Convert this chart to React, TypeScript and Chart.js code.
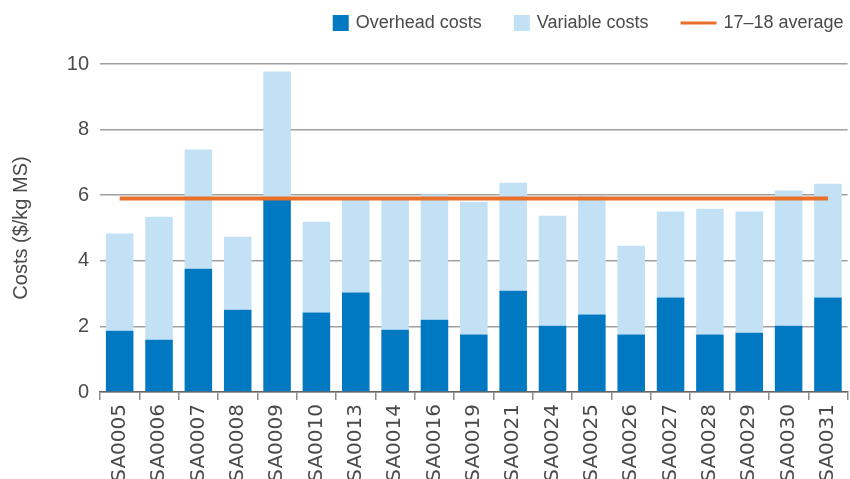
import React, { useEffect, useRef } from 'react';
import { Chart, registerables } from 'chart.js';

Chart.register(...registerables);

const categories = ['SA0005', 'SA0006', 'SA0007', 'SA0008', 'SA0009', 'SA0010', 'SA0013', 'SA0014', 'SA0016', 'SA0019', 'SA0021', 'SA0024', 'SA0025', 'SA0026', 'SA0027', 'SA0028', 'SA0029', 'SA0030', 'SA0031'];
const overheadCosts = [1.87, 1.59, 3.76, 2.51, 5.85, 2.42, 3.03, 1.9, 2.2, 1.75, 3.09, 2.02, 2.36, 1.75, 2.88, 1.75, 1.81, 2.02, 2.88];
const variableCosts = [2.96, 3.75, 3.63, 2.22, 3.92, 2.77, 2.83, 3.95, 3.82, 4.05, 3.29, 3.35, 3.61, 2.71, 2.62, 3.84, 3.69, 4.12, 3.47];
const averageValue = 5.9;
const averageLine = categories.map(() => averageValue);
const yTicks = [0, 2, 4, 6, 8, 10];

const FONT = '"Liberation Sans", Arial, sans-serif';
const XFONT = '"DejaVu Sans", sans-serif';
const TEXT = '#4a4a4a';

const customLegend = {
  id: 'customLegend',
  afterDraw(chart: any) {
    const ctx = chart.ctx;
    ctx.save();
    ctx.font = `18px ${FONT}`;
    ctx.textBaseline = 'middle';
    ctx.textAlign = 'left';
    const items = chart.data.datasets.map((ds: any) => ({
      text: ds.label,
      isLine: ds.type === 'line',
      color: ds.type === 'line' ? ds.borderColor : ds.backgroundColor,
    }));
    const gap = 7;
    const spacing = 32;
    const widths = items.map((it: any) => (it.isLine ? 36 : 16) + gap + ctx.measureText(it.text).width);
    const total = widths.reduce((a: number, b: number) => a + b, 0) + spacing * (items.length - 1);
    const right = chart.chartArea.right - 4;
    let x = right - total;
    const cy = 23;
    items.forEach((it: any) => {
      if (it.isLine) {
        ctx.strokeStyle = it.color;
        ctx.lineWidth = 3;
        ctx.beginPath();
        ctx.moveTo(x, cy);
        ctx.lineTo(x + 36, cy);
        ctx.stroke();
        x += 36;
      } else {
        ctx.fillStyle = it.color;
        ctx.fillRect(x, cy - 8, 16, 16);
        x += 16;
      }
      x += gap;
      ctx.fillStyle = TEXT;
      ctx.fillText(it.text, x, cy);
      x += ctx.measureText(it.text).width + spacing;
    });
    ctx.restore();
  },
};

export default function App() {
  const ref = useRef<HTMLCanvasElement | null>(null);
  useEffect(() => {
    if (!ref.current) return;
    const chart = new Chart(ref.current, {
      type: 'bar',
      data: {
        labels: categories,
        datasets: [
          {
            type: 'bar',
            label: 'Overhead costs',
            data: overheadCosts,
            backgroundColor: '#0079C2',
            stack: 'costs',
            order: 1,
            barPercentage: 0.7,
            categoryPercentage: 1,
          },
          {
            type: 'bar',
            label: 'Variable costs',
            data: variableCosts,
            backgroundColor: '#C3E1F5',
            stack: 'costs',
            order: 1,
            barPercentage: 0.7,
            categoryPercentage: 1,
          },
          {
            type: 'line',
            label: '17–18 average',
            data: averageLine,
            borderColor: '#E8702A',
            backgroundColor: '#E8702A',
            borderWidth: 4,
            borderCapStyle: 'butt',
            pointRadius: 0,
            stack: 'avg',
            order: 0,
          } as any,
        ],
      },
      options: {
        animation: false,
        responsive: false,
        layout: { padding: { top: 64, right: 2, left: 0, bottom: 0 } },
        plugins: {
          legend: { display: false },
          tooltip: { enabled: false },
        },
        scales: {
          x: {
            stacked: true,
            offset: true,
            grid: {
              display: true,
              drawOnChartArea: false,
              drawTicks: true,
              tickLength: 8,
              color: '#8c8c8c',
              lineWidth: 1.5,
              offset: true,
            },
            border: { display: true, color: '#666666', width: 1.5 },
            ticks: {
              autoSkip: false,
              maxRotation: 90,
              minRotation: 90,
              padding: 4,
              color: TEXT,
              font: { family: XFONT, size: 20 },
            },
            afterFit: (s: any) => {
              s.height = 87;
            },
          },
          y: {
            stacked: true,
            min: 0,
            max: 10,
            afterBuildTicks: (s: any) => {
              s.ticks = yTicks.map((v) => ({ value: v }));
            },
            ticks: {
              padding: 11,
              color: TEXT,
              font: { family: FONT, size: 20 },
            },
            grid: { drawTicks: false, color: '#a0a0a0', lineWidth: 1.5 },
            border: { display: false },
            title: {
              display: true,
              text: 'Costs ($/kg MS)',
              color: TEXT,
              font: { family: FONT, size: 20 },
              padding: { top: 9, bottom: 0 },
            },
            afterFit: (s: any) => {
              s.width = 100;
            },
          },
        },
      } as any,
      plugins: [customLegend],
    });
    return () => chart.destroy();
  }, []);

  return (
    <div style={{ position: 'fixed', left: 0, top: 0, width: 850, height: 479, overflow: 'hidden', background: '#fff' }}>
      <canvas ref={ref} width={856} height={479} style={{ display: 'block' }} />
    </div>
  );
}
